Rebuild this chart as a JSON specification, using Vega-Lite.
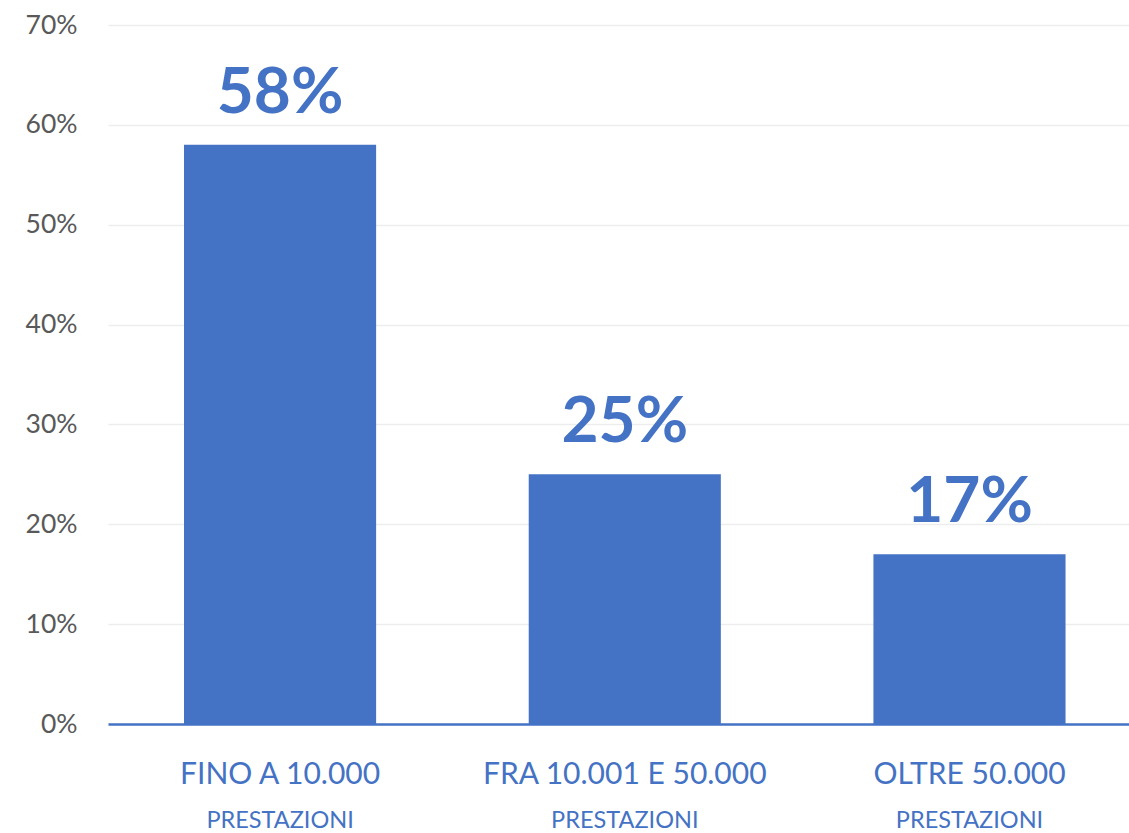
{
  "$schema": "https://vega.github.io/schema/vega-lite/v6.json",
  "width": 1021,
  "height": 699,
  "autosize": "none",
  "padding": {"left": 108, "top": 25, "right": 0, "bottom": 109},
  "background": "white",
  "config": {"view": {"stroke": null}, "font": "Lato"},
  "data": {
    "values": [
      {"categoria": "Fino a 10.000 prestazioni", "riga1": "FINO A 10.000", "riga2": "PRESTAZIONI", "valore": 0.58},
      {"categoria": "Fra 10.001 e 50.000 prestazioni", "riga1": "FRA 10.001 E 50.000", "riga2": "PRESTAZIONI", "valore": 0.25},
      {"categoria": "Oltre 50.000 prestazioni", "riga1": "OLTRE 50.000", "riga2": "PRESTAZIONI", "valore": 0.17}
    ]
  },
  "encoding": {
    "x": {
      "field": "categoria",
      "type": "nominal",
      "sort": null,
      "scale": {"paddingInner": 0.4427, "paddingOuter": 0.2023, "align": 0.545},
      "axis": {"labels": false, "ticks": false, "title": null, "domainColor": "#4472C4", "domainWidth": 2.5, "grid": false}
    }
  },
  "layer": [
    {
      "mark": {"type": "bar", "color": "#4472C4"},
      "encoding": {
        "y": {
          "field": "valore",
          "type": "quantitative",
          "scale": {"domain": [0, 0.7], "nice": false},
          "axis": {
            "format": ".0%",
            "values": [0, 0.1, 0.2, 0.3, 0.4, 0.5, 0.6, 0.7],
            "domain": false,
            "ticks": false,
            "labelFontSize": 26.5,
            "labelColor": "#595959",
            "labelPadding": 31,
            "gridColor": "#EDEDED",
            "gridWidth": 1.5,
            "title": null
          }
        }
      }
    },
    {
      "mark": {"type": "text", "font": "Lato", "fontWeight": "bold", "fontSize": 64, "color": "#4472C4", "baseline": "alphabetic", "dy": -32},
      "encoding": {
        "y": {"field": "valore", "type": "quantitative"},
        "text": {"field": "valore", "type": "quantitative", "format": ".0%"}
      }
    },
    {
      "mark": {"type": "text", "font": "Lato", "fontSize": 30, "color": "#4472C4", "baseline": "alphabetic", "dy": 60},
      "encoding": {
        "y": {"datum": 0, "type": "quantitative"},
        "text": {"field": "riga1"}
      }
    },
    {
      "mark": {"type": "text", "font": "Lato", "fontSize": 23.5, "color": "#4472C4", "baseline": "alphabetic", "dy": 104},
      "encoding": {
        "y": {"datum": 0, "type": "quantitative"},
        "text": {"field": "riga2"}
      }
    }
  ]
}
